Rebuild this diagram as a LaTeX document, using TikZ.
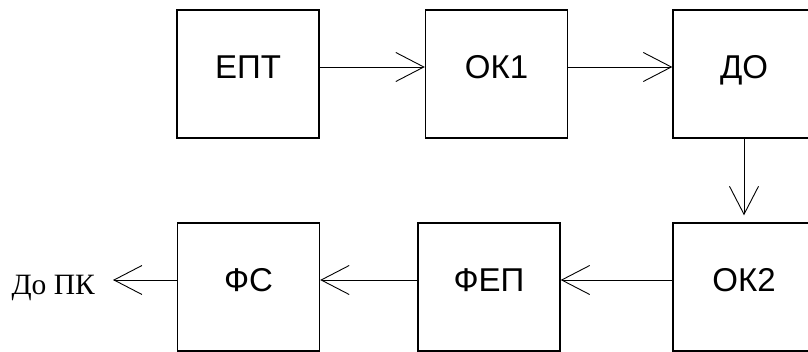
\documentclass[tikz,border=0pt]{standalone}
\usepackage{fontspec}
\setmainfont{Liberation Sans}
\newfontfamily\serifcyr{Liberation Serif}
\usetikzlibrary{arrows.meta}
\tikzset{
  blk/.style={draw, line width=1.4pt, minimum width=142pt, minimum height=128pt, inner sep=0pt,
    font=\fontsize{33}{33}\selectfont, text height=24pt, text depth=14pt},
  conn/.style={line width=0.9pt, -{Straight Barb[length=28pt,width=29pt,line width=0.9pt]}}
}
\begin{document}
\begin{tikzpicture}[x=1pt,y=-1pt]
\path[use as bounding box, clip] (0,0) rectangle (808,352);
\node[blk] (ept) at (248,74) {ЕПТ};
\node[blk] (ok1) at (496.5,74) {ОК1};
\node[blk] (do) at (744,74) {ДО};
\node[blk] (ok2) at (744,287) {ОК2};
\node[blk] (fep) at (489,287) {ФЕП};
\node[blk] (fs) at (248.5,287) {ФС};
\coordinate (out) at (113,280);
\node[anchor=base east, inner sep=0pt, font=\serifcyr\fontsize{29.5}{29.5}\selectfont] (pc) at (95,295) {До ПК};
\draw[conn] ([yshift=7pt]ept.east) -- ([yshift=7pt]ok1.west);
\draw[conn] ([yshift=7pt]ok1.east) -- ([yshift=7pt]do.west);
\draw[conn] (do.south) -- ([yshift=7pt]ok2.north);
\draw[conn] ([yshift=7pt]ok2.west) -- ([yshift=7pt]fep.east);
\draw[conn] ([yshift=7pt]fep.west) -- ([yshift=7pt]fs.east);
\draw[conn] ([yshift=7pt]fs.west) -- (out);
\end{tikzpicture}
\end{document}
